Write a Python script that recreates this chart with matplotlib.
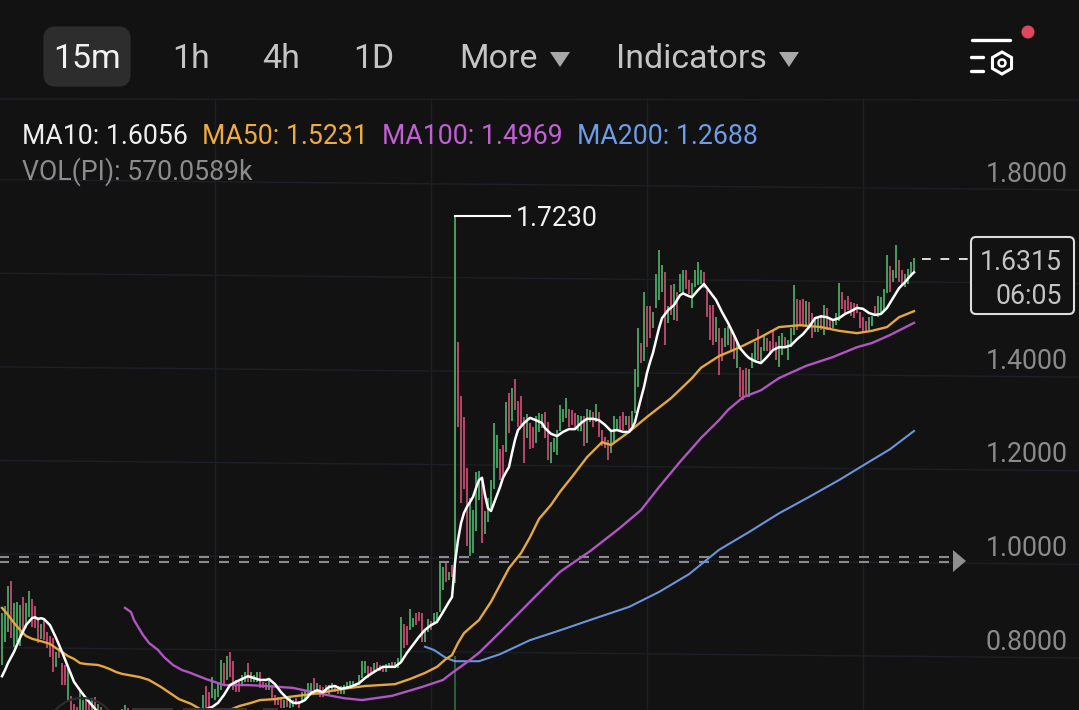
import numpy as np
import matplotlib
matplotlib.use("Agg")
import matplotlib.pyplot as plt
from matplotlib.patches import FancyBboxPatch, Polygon, Circle, Rectangle, RegularPolygon
from matplotlib.transforms import ScaledTranslation

plt.rcParams['font.family'] = ['Roboto', 'DejaVu Sans']

# candles, left to right, numbered so that the MA100/MA200 start at bars 100 and 200
first_bar = 59

bar_high = [
    .884, .899, .943, .953, .906, .909, .902, .919, .907, .932, .915, .899,
    .877, .862, .870, .845, .836, .831, .802, .810, .778, .774, .765, .708,
    .690, .685, .721, .700, .706, .699, .703, .706, .690, .685,
    .672, .670, .668, .665, .668, .670, .680, .689, .683,
    .670, .668, .670, .665, .670, .668, .666, .670, .668, .683, .681,
    .665, .660, .662, .665, .660, .662, .665, .660, .662, .665, .660, .665, .670,
    # bottom of the chart to the breakout
    .710, .728, .717, .748, .722, .735, .785, .778, .793, .801, .783, .742,
    .738, .753, .758, .778, .760, .753, .760, .758, .738, .735, .742, .731,
    .710, .706, .703, .699, .703, .703, .699, .703, .696, .717, .721, .735,
    .735, .746, .736, .731, .726, .731, .731, .736, .731, .728, .728, .731,
    .738, .740, .740, .736, .753, .783, .783, .772, .770, .778, .781, .774,
    .770, .776, .779, .781, .781, .788, .877, .862, .857, .893, .874, .884,
    .888, .886, .849, .872, .867, .884, .888, .993, .984, .993, .973, .988,
    # the spike and after
    1.733, 1.465, 1.349, 1.303, 1.194, 1.130, 1.105, 1.187, 1.188, 1.169,
    1.102, 1.130, 1.169, 1.292, 1.265, 1.235, 1.244, 1.335, 1.356, 1.366,
    1.386, 1.339, 1.349, 1.303, 1.310, 1.290, 1.283, 1.305, 1.313, 1.310,
    1.315, 1.294, 1.251, 1.258, 1.276, 1.330, 1.322, 1.344, 1.320, 1.318,
    1.312, 1.308, 1.305, 1.305, 1.322, 1.319, 1.315, 1.332, 1.315, 1.276,
    1.262, 1.255, 1.273, 1.306, 1.299, 1.306, 1.315, 1.305, 1.305, 1.317,
    1.406, 1.493, 1.461, 1.572, 1.541, 1.540, 1.529, 1.609, 1.661, 1.629,
    1.613, 1.540, 1.586, 1.587, 1.572, 1.609, 1.619, 1.619, 1.597, 1.591,
    1.618, 1.636, 1.618, 1.613, 1.575, 1.543, 1.543, 1.517, 1.493, 1.472,
    1.495, 1.498,
    1.495, 1.476, 1.461, 1.411, 1.404, 1.408, 1.406, 1.440, 1.465, 1.492,
    1.454, 1.479, 1.472, 1.467, 1.488, 1.465, 1.476, 1.483, 1.474, 1.468,
    1.495, 1.586, 1.555, 1.554, 1.555, 1.552, 1.550, 1.527, 1.515, 1.518,
    1.522, 1.543, 1.536, 1.515, 1.508, 1.527, 1.590, 1.572, 1.554, 1.562,
    1.550, 1.547, 1.545, 1.529, 1.517, 1.508, 1.517, 1.520, 1.540, 1.562,
    1.560, 1.577, 1.650, 1.626, 1.619, 1.671, 1.639, 1.617, 1.609, 1.621,
    1.634, 1.643,
]
bar_low = [
    .774, .824, .845, .831, .813, .824, .815, .842, .852, .877, .856, .852,
    .820, .829, .827, .810, .790, .758, .770, .788, .731, .731, .699, .671,
    .660, .655, .670, .668, .665, .665, .668, .665, .660, .655,
    .650, .650, .650, .650, .650, .650, .660, .660, .660,
    .650, .650, .650, .650, .650, .650, .650, .650, .650, .660, .660,
    .640, .640, .640, .640, .640, .640, .640, .640, .640, .640, .640, .640, .650,
    .678, .681, .685, .703, .699, .706, .721, .731, .742, .749, .721, .717,
    .717, .731, .738, .738, .738, .738, .738, .724, .724, .721, .721, .703,
    .689, .689, .681, .681, .685, .681, .685, .689, .681, .692, .696, .703,
    .713, .721, .713, .706, .706, .717, .713, .721, .717, .713, .712, .713,
    .722, .724, .728, .728, .731, .746, .756, .746, .753, .760, .765, .762,
    .760, .758, .767, .767, .767, .767, .781, .810, .817, .849, .855, .859,
    .867, .824, .824, .845, .849, .863, .867, .888, .934, .952, .956, .961,
    .950, 1.283, 1.121, 1.149, 1.028, 1.006, 1.014, 1.061, 1.126, 1.035,
    1.054, 1.080, 1.109, 1.149, 1.194, 1.169, 1.176, 1.230, 1.269, 1.296,
    1.319, 1.283, 1.287, 1.206, 1.260, 1.235, 1.237, 1.249, 1.272, 1.280,
    1.258, 1.212, 1.206, 1.230, 1.223, 1.273, 1.294, 1.301, 1.283, 1.287,
    1.280, 1.273, 1.273, 1.241, 1.248, 1.294, 1.283, 1.294, 1.262, 1.242,
    1.237, 1.211, 1.226, 1.248, 1.273, 1.273, 1.276, 1.287, 1.276, 1.284,
    1.312, 1.369, 1.419, 1.424, 1.453, 1.472, 1.495, 1.536, 1.554, 1.572,
    1.458, 1.505, 1.522, 1.511, 1.509, 1.570, 1.568, 1.577, 1.567, 1.537,
    1.582, 1.586, 1.589, 1.579, 1.518, 1.468, 1.458, 1.465, 1.394, 1.424,
    1.454, 1.458,
    1.447, 1.427, 1.408, 1.347, 1.340, 1.351, 1.347, 1.408, 1.422, 1.426,
    1.422, 1.444, 1.444, 1.436, 1.447, 1.426, 1.411, 1.436, 1.451, 1.426,
    1.454, 1.479, 1.490, 1.498, 1.498, 1.500, 1.495, 1.472, 1.486, 1.486,
    1.490, 1.479, 1.490, 1.490, 1.495, 1.500, 1.508, 1.534, 1.524, 1.532,
    1.520, 1.515, 1.527, 1.495, 1.488, 1.488, 1.490, 1.498, 1.522, 1.518,
    1.522, 1.529, 1.568, 1.572, 1.593, 1.600, 1.593, 1.589, 1.582, 1.589,
    1.602, 1.611,
]
bar_dir = (
    "gggrgggrggrrrgrrrrgrrrgr" "rrggrrgrgr" "rgrgrg" "ggr" "grgrgrrgr" "gr" "grgrgrgrgrgrr"
    "grrggggrgrrrrggrgggrrrgrrrrgrggrrggg"
    "grgrrrggrrgggggrgggrrgrrrggrgggrrggrrrggrggggrgr"
    "grrrrggggrgggggrrgrgrrrrgrrggg"
    "rrggggggrrrggrggrgrrrrgggrrgrgggrgrrggggrgrgrggrrggggrrrrgrrgg"
    "rrgrrrgggrggrrrrggrgggrrrgrrggrgrrgggrrrrrrrrrggrggggrggrrgggg"
)

# moving averages: bar number and value
ma10_bar = [59, 60, 61, 63, 65, 67, 69, 70, 71, 72, 73, 75, 77, 79, 81, 83, 85, 87, 89, 91, 110, 120,
            126, 128, 129, 131, 133, 135, 137, 139, 141, 143, 145, 147, 148, 150, 152, 154, 156, 158,
            160, 162, 164, 166, 168, 170, 172, 175, 178, 180, 182, 184, 186, 188, 190, 192, 194, 196,
            198, 200, 202, 204, 206, 208, 209, 210, 211, 212, 213, 214, 215, 216, 217, 218, 219, 220,
            221, 222, 223, 224, 225, 226, 227, 228, 229, 230, 231, 233, 235, 237, 239, 240, 242, 244,
            246, 248, 250, 252, 254, 256, 258, 260, 262, 264, 266, 268, 269, 270, 271, 272, 273, 274,
            275, 276, 277, 278, 279, 281, 283, 285, 286, 288, 289, 291, 293, 295, 297, 299, 301, 303,
            305, 307, 308, 310, 312, 314, 316, 318, 320, 322, 324, 326, 328, 330, 332, 334, 336, 338,
            340, 342, 344, 346, 348, 350, 352, 354, 356, 358, 360, 362, 363]
ma10_val = [.750, .763, .778, .802, .832, .859, .874, .876, .872, .874, .872, .859, .832, .802, .770, .738,
            .720, .703, .688, .673, .58, .60,
            .676, .682, .684, .693, .710, .731, .738, .744, .750, .746, .742, .742, .744, .733, .716, .703,
            .693, .693, .699, .714, .720, .716, .727, .729, .723, .727, .735, .746, .755, .763, .770, .770,
            .770, .780, .800, .817, .834, .849, .859, .866, .887, .909, .919, .992, 1.041, 1.077, 1.099,
            1.112, 1.122, 1.133, 1.152, 1.169, 1.174, 1.137, 1.109, 1.103, 1.120, 1.137, 1.154, 1.174,
            1.186, 1.197, 1.227, 1.255, 1.276, 1.291, 1.302, 1.297, 1.291, 1.280, 1.268, 1.263, 1.272,
            1.278, 1.278, 1.291, 1.300, 1.300, 1.297, 1.287, 1.274, 1.276, 1.272, 1.272, 1.280, 1.293,
            1.319, 1.344, 1.368, 1.398, 1.421, 1.441, 1.468, 1.494, 1.515, 1.532, 1.543, 1.564, 1.568,
            1.562, 1.560, 1.575, 1.588, 1.571, 1.554, 1.528, 1.505, 1.479, 1.451, 1.436, 1.430, 1.423,
            1.419, 1.432, 1.447, 1.453, 1.453, 1.457, 1.470, 1.481, 1.496, 1.515, 1.519, 1.517, 1.511,
            1.515, 1.524, 1.530, 1.537, 1.535, 1.526, 1.522, 1.524, 1.537, 1.558, 1.579, 1.592, 1.607, 1.613]

ma50_bar = [59, 61, 63, 65, 67, 69, 73, 75, 77, 79, 81, 83, 85, 87, 91, 93, 95, 97, 99, 105, 108, 112, 115,
            118, 122, 125, 128, 133, 138, 142, 145, 150, 155, 160, 165, 170, 175, 180, 185, 190, 195, 200,
            204, 207, 209, 211, 213, 216, 218, 222, 225, 228, 232, 235, 238, 242, 245, 249, 254, 259, 262,
            268, 274, 282, 289, 292, 298, 305, 312, 318, 325, 332, 338, 344, 349, 354, 358, 363]
ma50_val = [.896, .881, .864, .849, .836, .830, .823, .819, .810, .802, .793, .787, .778, .776, .774, .770,
            .765, .759, .755, .748, .742, .727, .714, .701, .691, .680, .669, .673, .686, .693, .699, .701,
            .706, .710, .714, .720, .725, .729, .731, .733, .744, .757, .770, .787, .795, .821, .842, .859,
            .870, .909, .945, .981, 1.013, 1.047, 1.086, 1.116, 1.144, 1.176, 1.218, 1.250, 1.244,
            1.272, 1.304, 1.344, 1.387, 1.409, 1.434, 1.453, 1.475, 1.496, 1.500, 1.496, 1.488, 1.483, 1.488,
            1.496, 1.517, 1.530]

ma100_bar = [100, 102, 103, 106, 108, 111, 113, 116, 119, 121, 127, 133, 141, 147, 156, 164, 173, 179, 189,
             199, 206, 209, 214, 218, 225, 235, 245, 255, 265, 272, 278, 285, 292, 298, 301, 306, 312, 318,
             327, 336, 344, 349, 355, 363]
ma100_val = [.896, .887, .870, .838, .821, .806, .791, .774, .763, .759, .744, .731, .731, .729, .725, .714,
             .703, .699, .708, .727, .742, .757, .780, .800, .844, .909, .973, 1.017, 1.067, 1.105, 1.154,
             1.208, 1.259, 1.297, 1.319, 1.346, 1.361, 1.387, 1.413, 1.432, 1.453, 1.462, 1.479, 1.505]

ma200_bar = [200, 203, 207, 210, 214, 218, 225, 235, 245, 255, 268, 278, 288, 298, 308, 318, 328, 338, 348, 355, 363]
ma200_val = [.813, .806, .789, .782, .782, .782, .797, .827, .848, .870, .898, .930, .968, 1.020, 1.058, 1.098,
             1.133, 1.169, 1.208, 1.235, 1.274]

grid_prices = [0.8, 1.0, 1.2, 1.4, 1.6, 1.8]
tick_prices = [0.8, 1.0, 1.2, 1.4, 1.8]
grid_bars = [130, 202, 274, 346]
alert_prices = [1.005, 0.995]
spike_bar = 210
spike_vol_top = 0.793

tabs = ["1h", "4h", "1D"]
legend = [("MA10: 1.6056", 22, "#eeeeee"), ("MA50: 1.5231", 202, "#efab3c"),
          ("MA100: 1.4969", 382, "#c35fd6"), ("MA200: 1.2688", 577, "#6f9ce8")]

BG = "#121212"
GRID = "#1c1f25"
GREEN = "#439a5c"
RED = "#b34666"
GREY = "#8b8b8b"
FS = 19.2
TAB_FS = 24.4

fig = plt.figure(figsize=(10.79, 7.10), dpi=100, facecolor=BG)
ax = fig.add_axes([0, 0, 1, 1], facecolor=BG)
ax.set_xlim(175 / 3, 1254 / 3)
ax.set_ylim(317.2 / 468, 1027.2 / 468)

# the photo is slightly tilted, so the grid lines drop a little to the right
for p in grid_prices:
    ax.plot(ax.get_xlim(), [p + 0.011, p - 0.011], color=GRID, lw=1, zorder=1)
for b in grid_bars:
    ax.plot([b, b], [0.6, 1.985], color=GRID, lw=1, zorder=1)

x = np.arange(first_bar, first_bar + len(bar_high))
high = np.array(bar_high)
low = np.array(bar_low)
colors = [GREEN if c == "g" else RED for c in bar_dir]
ax.bar(x, high - low, bottom=low, width=0.7, color=colors, linewidth=0, zorder=2)
ax.bar([spike_bar], [spike_vol_top - 0.6], bottom=0.6, width=0.7, color="#2b5c3b", linewidth=0, zorder=2)

for p in alert_prices:
    ax.plot([58, 375], [p, p], color=GREY, lw=1.5, dashes=(4.8, 4.8), zorder=3)

ax.plot(ma200_bar, ma200_val, color="#6a94dc", lw=1.5, zorder=4, solid_joinstyle="round")
ax.plot(ma100_bar, ma100_val, color="#b055c2", lw=1.7, zorder=4, solid_joinstyle="round")
ax.plot(ma50_bar, ma50_val, color="#e6a83c", lw=1.7, zorder=5, solid_joinstyle="round")
ax.plot(ma10_bar, ma10_val, color="#ffffff", lw=1.8, zorder=6, solid_joinstyle="round")

ax.yaxis.tick_right()
ax.set_yticks(tick_prices)
ax.set_yticklabels(["%.4f" % p for p in tick_prices])
ax.tick_params(axis="y", length=0, pad=-8, labelsize=FS, labelcolor=GREY)
down = ScaledTranslation(0, -2 / 72, fig.dpi_scale_trans)
for lab in ax.get_yticklabels():
    lab.set_ha("right")
    lab.set_va("bottom")
    lab.set_transform(lab.get_transform() + down)
ax.set_xticks([])
for s in ax.spines.values():
    s.set_visible(False)

# the app's controls, drawn in pixel positions on top of the chart
ui = fig.add_axes([0, 0, 1, 1])
ui.patch.set_alpha(0)
ui.set_xlim(0, 1079)
ui.set_ylim(710, 0)
ui.axis("off")

ui.plot([0, 1079], [99, 100], color=GRID, lw=1)
ui.add_patch(FancyBboxPatch((49, 32), 76, 49, boxstyle="round,pad=0,rounding_size=6",
                            mutation_aspect=1, fc="#2d2d2d", ec="#2d2d2d", lw=8))
ui.text(87, 59, "15m", color="#f2f2f2", fontsize=TAB_FS, ha="center", va="center")
for label, cx in zip(tabs, [191, 281, 374]):
    ui.text(cx, 59, label, color="#c4c4c4", fontsize=TAB_FS, ha="center", va="center")
ui.text(459, 59, "More", color="#c4c4c4", fontsize=TAB_FS, ha="left", va="center")
ui.text(616, 59, "Indicators", color="#c4c4c4", fontsize=TAB_FS, ha="left", va="center")
for cx in [560, 789]:
    ui.add_patch(Polygon([(cx - 10, 52), (cx + 10, 52), (cx, 67)], fc="#a8a8a8", ec="none"))

# settings icon
ui.plot([972, 1010], [40, 40], color="white", lw=2.4, solid_capstyle="round")
ui.plot([971, 983], [57, 57], color="white", lw=2.4, solid_capstyle="round")
ui.plot([971, 983], [71, 71], color="white", lw=2.4, solid_capstyle="round")
ui.add_patch(RegularPolygon((1002, 63), 6, radius=11, fc="none", ec="white", lw=2.2))
ui.add_patch(Circle((1002, 63), 3.5, fc="none", ec="white", lw=1.8))
ui.add_patch(Circle((1028, 32), 6.5, fc="#e0475f", ec="none"))

for label, lx, col in legend:
    ui.text(lx, 137, label, color=col, fontsize=FS, ha="left", va="center")
ui.text(22, 172, "VOL(PI): 570.0589k", color=GREY, fontsize=FS, ha="left", va="center")

# high marker
ui.plot([455, 510], [216, 216], color="white", lw=1.5)
ui.text(516, 219, "1.7230", color="#f0f0f0", fontsize=FS, ha="left", va="center")

# last price box
ui.plot([922, 970], [259, 259], color="#dddddd", lw=1.4, dashes=(4.5, 5))
ui.add_patch(FancyBboxPatch((971, 237), 103, 77, boxstyle="round,pad=0,rounding_size=5",
                            fc=BG, ec="#dddddd", lw=1.5))
ui.text(1062, 262, "1.6315", color="#c4c4c4", fontsize=FS, ha="right", va="center")
ui.text(1062, 296, "06:05", color="#c4c4c4", fontsize=FS, ha="right", va="center")

ui.add_patch(Polygon([(953, 550), (953, 572), (966, 561)], fc="#8f8f8f", ec="none"))

# faint watermark bits at the bottom edge
ui.add_patch(Circle((82, 733), 35, fc="none", ec="#2e2e2e", lw=1.5))
for left, right in [(132, 173), (183, 247), (263, 278)]:
    ui.add_patch(Rectangle((left, 708), right - left, 3, fc="#333333", ec="none"))

fig.savefig("out.png", dpi=100, facecolor=BG)
